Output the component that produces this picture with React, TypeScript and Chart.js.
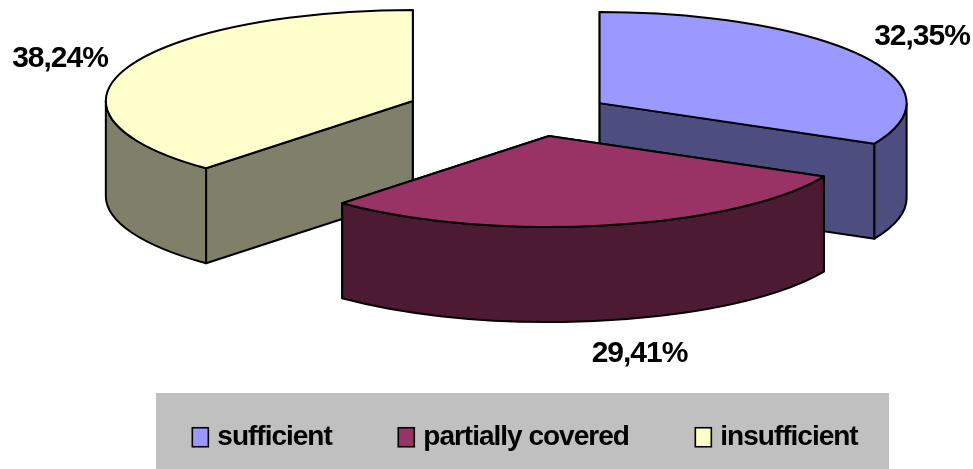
import React, { useEffect, useRef } from "react";
import { Chart, registerables } from "chart.js";

Chart.register(...registerables);

const categories = ["sufficient", "partially covered", "insufficient"];
const shares = [32.35, 29.41, 38.24];
const explosion = [76, 76, 131];
const faceColors = ["#9999FF", "#993366", "#FFFFCC"];
const wallColors = ["#4D4D80", "#4D1A33", "#80806A"];

// projection of the pie on the page
const CX = 535;
const CY = 114.6;
const RX = 307;
const RY = 91;
const DEPTH = 95;
const EXPLODE_SQUASH = 0.287;
const FONT = 'bold 30px "Liberation Sans", Arial, sans-serif';
const labelAnchors = [
  { x: 922, y: 37 },
  { x: 639.5, y: 354 },
  { x: 60, y: 59 },
];
const paintOrder = [0, 2, 1];

const pie3d = {
  id: "pie3d",
  beforeLayout(chart: any) {
    chart.ctx.letterSpacing = "-1px";
  },
  beforeDraw(chart: any) {
    const ctx = chart.ctx;
    ctx.letterSpacing = "-1px";
    ctx.save();
    ctx.fillStyle = "#C0C0C0";
    ctx.fillRect(156, 393, 733, 76);
    ctx.restore();
  },
  afterLayout(chart: any) {
    const legend = chart.legend;
    const h = legend.bottom - legend.top;
    legend.top = 409 - h / 2;
    legend.bottom = legend.top + h;
  },
  afterDraw(chart: any) {
    const ctx = chart.ctx;
    ctx.save();
    ctx.lineWidth = 1.6;
    ctx.strokeStyle = "#000";
    chart.legend.legendHitBoxes.forEach((hit: any, i: number) => {
      const cy = hit.top + hit.height / 2;
      ctx.fillStyle = faceColors[i];
      ctx.fillRect(hit.left, cy - 9.5, 16, 19);
      ctx.strokeRect(hit.left, cy - 9.5, 16, 19);
    });
    ctx.restore();
  },
  beforeDatasetsDraw(chart: any) {
    const ctx = chart.ctx;
    const arcs = chart.getDatasetMeta(0).data;
    ctx.save();
    ctx.lineWidth = 2;
    ctx.strokeStyle = "#000";
    ctx.lineJoin = "round";
    for (const i of paintOrder) {
      const arc = arcs[i];
      const a0 = arc.startAngle;
      const a1 = arc.endAngle;
      const mid = (a0 + a1) / 2;
      const off = arc.options.offset;
      const ax = CX + Math.cos(mid) * off;
      const ay = CY + Math.sin(mid) * off * EXPLODE_SQUASH;
      const px = (t: number) => ax + RX * Math.cos(t);
      const py = (t: number) => ay + RY * Math.sin(t);

      ctx.fillStyle = wallColors[i];
      for (const t of [a0, a1]) {
        ctx.beginPath();
        ctx.moveTo(ax, ay);
        ctx.lineTo(px(t), py(t));
        ctx.lineTo(px(t), py(t) + DEPTH);
        ctx.lineTo(ax, ay + DEPTH);
        ctx.closePath();
        ctx.fill();
        ctx.stroke();
      }

      const v0 = Math.max(a0, 0);
      const v1 = Math.min(a1, Math.PI);
      if (v1 > v0) {
        ctx.beginPath();
        ctx.ellipse(ax, ay, RX, RY, 0, v0, v1);
        ctx.lineTo(px(v1), py(v1) + DEPTH);
        ctx.ellipse(ax, ay + DEPTH, RX, RY, 0, v1, v0, true);
        ctx.closePath();
        ctx.fill();
        ctx.stroke();
      }

      ctx.fillStyle = faceColors[i];
      ctx.beginPath();
      ctx.moveTo(ax, ay);
      ctx.ellipse(ax, ay, RX, RY, 0, a0, a1);
      ctx.closePath();
      ctx.fill();
      ctx.stroke();
    }

    ctx.fillStyle = "#000";
    ctx.font = FONT;
    ctx.textAlign = "center";
    ctx.textBaseline = "middle";
    shares.forEach((v, i) => {
      ctx.fillText(v.toFixed(2).replace(".", ",") + "%", labelAnchors[i].x, labelAnchors[i].y);
    });
    ctx.restore();
    return false;
  },
};

export default function App() {
  const ref = useRef<HTMLCanvasElement>(null);
  useEffect(() => {
    document.body.style.margin = "0";
    document.body.style.background = "#fff";
    const chart = new Chart(ref.current!, {
      type: "pie",
      data: {
        labels: categories,
        datasets: [
          {
            data: shares,
            backgroundColor: faceColors,
            borderColor: "#000",
            borderWidth: 1,
            offset: explosion,
          },
        ],
      },
      plugins: [pie3d],
      options: {
        animation: false,
        responsive: false,
        devicePixelRatio: 1,
        layout: { padding: { left: 77 } },
        plugins: {
          tooltip: { enabled: false },
          legend: {
            position: "bottom",
            labels: {
              boxWidth: 11,
              boxHeight: 16,
              padding: 66.5,
              color: "#000",
              font: { family: '"Liberation Sans", Arial, sans-serif', weight: "bold", size: 28 },
              generateLabels: () =>
                categories.map((text, i) => ({
                  text,
                  index: i,
                  fillStyle: "rgba(0,0,0,0)",
                  strokeStyle: "rgba(0,0,0,0)",
                  lineWidth: 0,
                  fontColor: "#000",
                })),
            },
          },
        },
      },
    } as any);
    return () => chart.destroy();
  }, []);
  return <canvas ref={ref} width={973} height={469} style={{ display: "block" }} />;
}
